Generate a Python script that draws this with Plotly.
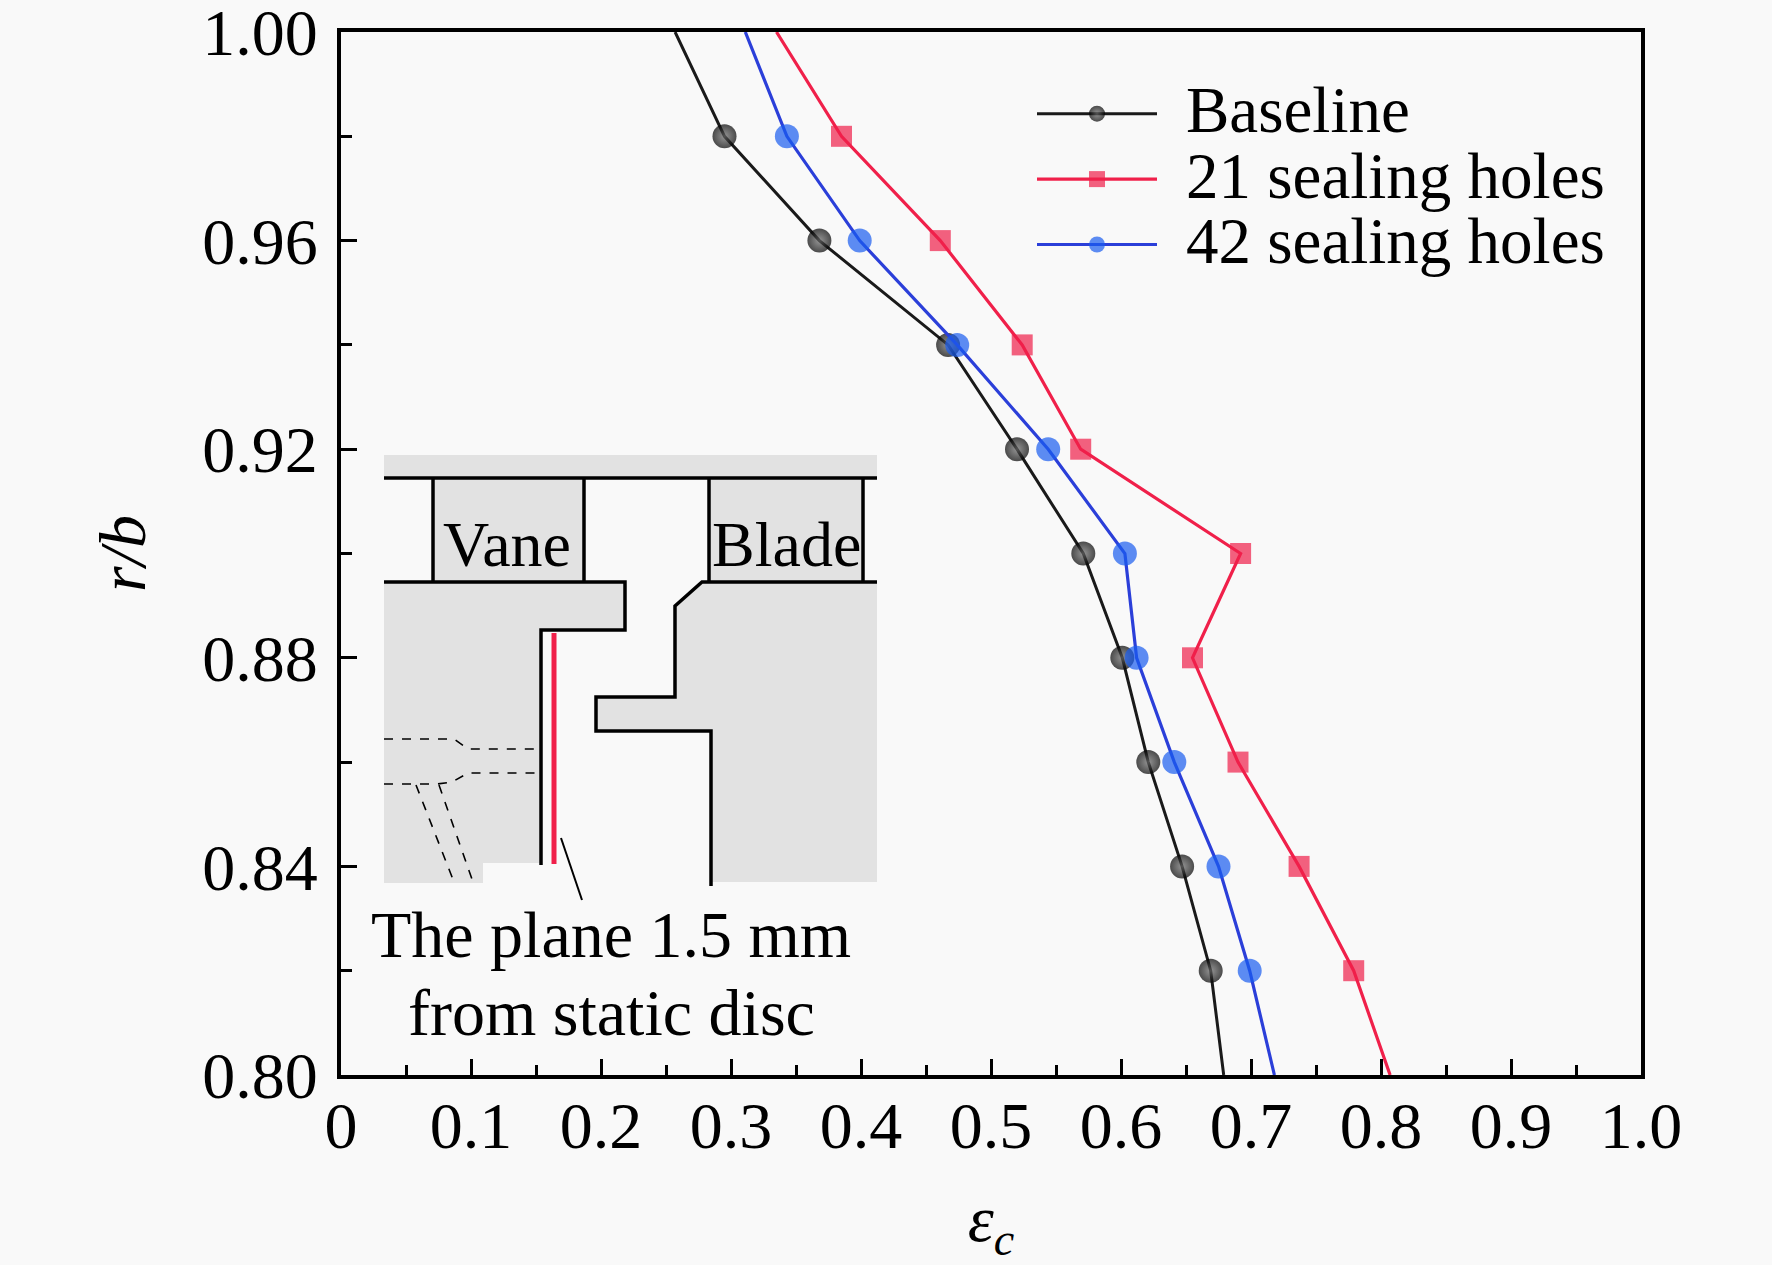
import plotly.graph_objects as go

# radial position r/b and cooling effectiveness for each case
R_B = [1.00, 0.98, 0.96, 0.94, 0.92, 0.90, 0.88, 0.86, 0.84, 0.82, 0.80]
BASELINE = [0.257, 0.295, 0.368, 0.467, 0.520, 0.571, 0.601, 0.621, 0.647, 0.669, 0.679]
HOLES_21 = [0.335, 0.385, 0.461, 0.524, 0.569, 0.692, 0.655, 0.690, 0.737, 0.779, 0.807]
HOLES_42 = [0.311, 0.343, 0.399, 0.474, 0.544, 0.603, 0.612, 0.641, 0.675, 0.699, 0.718]

NAMES = ['Baseline', '21 sealing holes', '42 sealing holes']

X_TICKS = [0, 0.1, 0.2, 0.3, 0.4, 0.5, 0.6, 0.7, 0.8, 0.9, 1.0]
X_TICK_TEXT = ['0', '0.1', '0.2', '0.3', '0.4', '0.5', '0.6', '0.7', '0.8', '0.9', '1.0']
X_MINOR = [0.05, 0.15, 0.25, 0.35, 0.45, 0.55, 0.65, 0.75, 0.85, 0.95]
Y_TICKS = [0.80, 0.84, 0.88, 0.92, 0.96, 1.00]
Y_TICK_TEXT = ['0.80', '0.84', '0.88', '0.92', '0.96', '1.00']
Y_MINOR = [0.82, 0.86, 0.90, 0.94, 0.98]

FONT = 'Liberation Serif, Times New Roman, serif'
BG = '#f9f9f9'
GREY = '#e2e2e2'
RED = '#f0204a'
BLUE_M = '#1a5cf0'
BLUE_L = '#2b3fd9'

W, H = 1772, 1265
L, R, T, B = 341, 131, 32, 190
PW, PH = W - L - R, H - T - B


def fx(x):
    # pixel -> paper (plot area relative)
    return (x - L) / PW


def fy(y):
    return (H - B - y) / PH


def path(pts, close=False):
    s = 'M ' + ' L '.join('%.5f,%.5f' % (fx(x), fy(y)) for x, y in pts)
    if close:
        s += ' Z'
    return s


def sizes(n, s):
    # no marker on the end points where the line meets the axes
    return [0] + [s] * (n - 2) + [0]


def legend_name(name):
    # keep legend row spacing tight while drawing the text larger
    return '\u00a0\u00a0<span style="font-size:65px">%s</span>' % name


fig = go.Figure()

fig.add_trace(go.Scatter(
    x=BASELINE, y=R_B, name=legend_name(NAMES[0]), mode='lines+markers',
    line=dict(color='#1a1a1a', width=3),
    marker=dict(symbol='circle', size=sizes(len(R_B), 24), color='#000000',
                gradient=dict(type='radial', color='#6a6a6a'),
                line=dict(width=0)),
))
fig.add_trace(go.Scatter(
    x=HOLES_21, y=R_B, name=legend_name(NAMES[1]), mode='lines+markers',
    line=dict(color=RED, width=3.2),
    marker=dict(symbol='square', size=sizes(len(R_B), 21), color=RED,
                line=dict(width=0)),
))
fig.add_trace(go.Scatter(
    x=HOLES_42, y=R_B, name=legend_name(NAMES[2]), mode='lines+markers',
    line=dict(color=BLUE_L, width=3.2),
    marker=dict(symbol='circle', size=sizes(len(R_B), 24), color=BLUE_M,
                line=dict(width=0)),
))

# inset sketch of the vane / blade cavity
shapes = []


def grey_poly(pts):
    shapes.append(dict(type='path', xref='paper', yref='paper', path=path(pts, True),
                       fillcolor=GREY, line=dict(width=0), layer='above'))


def black_line(pts, width=3.5, color='black', dash='solid'):
    shapes.append(dict(type='path', xref='paper', yref='paper', path=path(pts),
                       line=dict(color=color, width=width, dash=dash), layer='above'))


grey_poly([(384, 455), (877, 455), (877, 478), (384, 478)])
grey_poly([(433, 478), (584, 478), (584, 582), (433, 582)])
grey_poly([(709, 478), (863, 478), (863, 582), (709, 582)])
grey_poly([(384, 582), (625, 582), (625, 630), (541, 630), (541, 863),
           (483, 863), (483, 883), (384, 883)])
grey_poly([(702, 582), (877, 582), (877, 882), (711, 882), (711, 731),
           (596, 731), (596, 697), (675, 697), (675, 606)])

black_line([(384, 478), (877, 478)])
black_line([(433, 478), (433, 582)])
black_line([(584, 478), (584, 582)])
black_line([(709, 478), (709, 582)])
black_line([(863, 478), (863, 582)])
black_line([(384, 582), (625, 582), (625, 630), (541, 630), (541, 865)])
black_line([(877, 582), (702, 582), (675, 606), (675, 697), (596, 697),
            (596, 731), (711, 731), (711, 886)])

# cooling holes (dashed)
black_line([(384, 739), (454, 739), (468, 749), (537, 749)], width=1.6, dash='dash')
black_line([(384, 784), (437, 784), (452, 782), (468, 773), (537, 773)], width=1.6, dash='dash')
black_line([(416, 785), (454, 882)], width=1.6, dash='dash')
black_line([(439, 785), (473, 882)], width=1.6, dash='dash')

# measurement plane and leader
black_line([(554, 633), (554, 864)], width=5, color=RED)
black_line([(561, 838), (582, 900)], width=2)


def label(text, x, y, size):
    return dict(text=text, x=fx(x), y=fy(y), xref='paper', yref='paper',
                xanchor='center', yanchor='middle', showarrow=False,
                font=dict(family=FONT, size=size, color='black'))


annotations = [
    label('Vane', 507, 544, 64),
    label('Blade', 786, 544, 64),
    label('The plane 1.5 mm', 611, 934, 66),
    label('from static disc', 611, 1012, 66),
]

axis_common = dict(
    showline=True, linewidth=4, linecolor='black', mirror=True,
    ticks='inside', ticklen=16, tickwidth=3, tickcolor='black',
    showgrid=False, zeroline=False, ticklabeloverflow='allow',
    automargin=False,
    tickfont=dict(family=FONT, size=66, color='black'),
)

fig.update_layout(
    width=W, height=H,
    margin=dict(l=L, r=R, t=T, b=B),
    paper_bgcolor=BG, plot_bgcolor=BG,
    font=dict(family=FONT, color='black'),
    xaxis=dict(
        axis_common, range=[0, 1],
        tickmode='array', tickvals=X_TICKS, ticktext=X_TICK_TEXT,
        minor=dict(tickmode='array', tickvals=X_MINOR, ticks='inside',
                   ticklen=10, tickwidth=3, tickcolor='black'),
        ticklabelstandoff=-10,
        title=dict(text='<i>ε</i><sub><i>c</i></sub>', standoff=46,
                   font=dict(family=FONT, size=66, color='black')),
    ),
    yaxis=dict(
        axis_common, range=[0.8, 1.0],
        tickmode='array', tickvals=Y_TICKS, ticktext=Y_TICK_TEXT,
        minor=dict(tickmode='array', tickvals=Y_MINOR, ticks='inside',
                   ticklen=11, tickwidth=3, tickcolor='black'),
        ticklabelstandoff=6,
        title=dict(text='<i>r/b</i>', standoff=36,
                   font=dict(family=FONT, size=66, color='black')),
    ),
    legend=dict(
        x=fx(1032), y=fy(76), xanchor='left', yanchor='top',
        bgcolor='rgba(0,0,0,0)', borderwidth=0,
        font=dict(family=FONT, size=48, color='black'),
        itemwidth=120, tracegroupgap=0,
    ),
    shapes=shapes,
    annotations=annotations,
)

fig.write_html('out.html', config={'displayModeBar': False},
               post_script="document.body.style.margin='0px';")
